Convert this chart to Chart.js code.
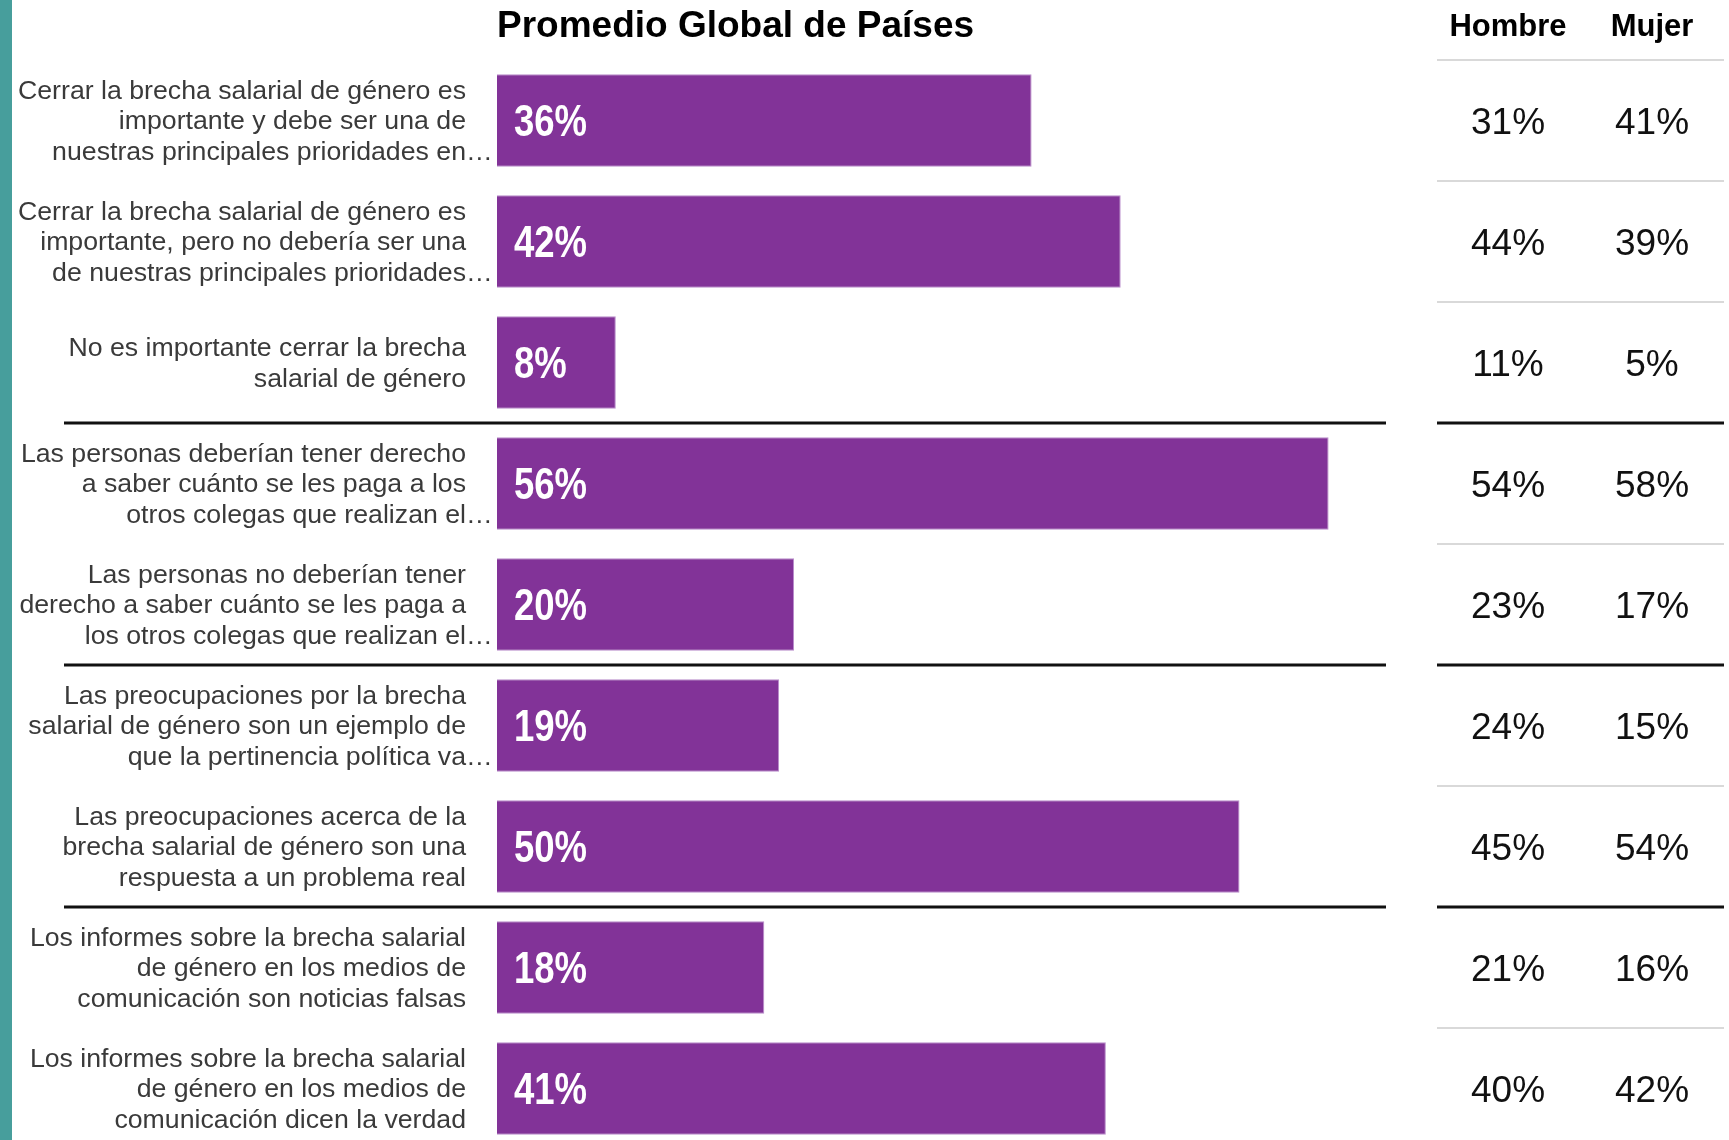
<!DOCTYPE html>
<html><head><meta charset="utf-8">
<script src="https://cdn.jsdelivr.net/npm/chart.js@4.4.0/dist/chart.umd.min.js"></script>
<style>
html,body{margin:0;padding:0;background:#fff;overflow:hidden;}
#wrap{position:relative;width:1729px;height:1150px;}
</style></head><body>
<div id="wrap"><canvas id="c"></canvas></div>
<script>
const title = "Promedio Global de Países";
const colHeaders = ["Hombre", "Mujer"];
const categories = [
  ["Cerrar la brecha salarial de género es", "importante y debe ser una de", "nuestras principales prioridades en…"],
  ["Cerrar la brecha salarial de género es", "importante, pero no debería ser una", "de nuestras principales prioridades…"],
  ["No es importante cerrar la brecha", "salarial de género"],
  ["Las personas deberían tener derecho", "a saber cuánto se les paga a los", "otros colegas que realizan el…"],
  ["Las personas no deberían tener", "derecho a saber cuánto se les paga a", "los otros colegas que realizan el…"],
  ["Las preocupaciones por la brecha", "salarial de género son un ejemplo de", "que la pertinencia política va…"],
  ["Las preocupaciones acerca de la", "brecha salarial de género son una", "respuesta a un problema real"],
  ["Los informes sobre la brecha salarial", "de género en los medios de", "comunicación son noticias falsas"],
  ["Los informes sobre la brecha salarial", "de género en los medios de", "comunicación dicen la verdad"]
];
const globalValues = [36, 42, 8, 56, 20, 19, 50, 18, 41];
const hombreValues = [31, 44, 11, 54, 23, 24, 45, 21, 40];
const mujerValues  = [41, 39, 5, 58, 17, 15, 54, 16, 42];
const groupBreaks = [2, 4, 6]; // black separator after these indices

const BAR = '#823398';
const overlay = {
  id: 'overlay',
  beforeDraw(chart) {
    const ctx = chart.ctx;
    ctx.save();
    ctx.fillStyle = '#479E9C';
    ctx.fillRect(0, 0, 12, chart.height);
    ctx.restore();
  },
  afterDatasetsDraw(chart) {
    const ctx = chart.ctx, ys = chart.scales.y, meta = chart.getDatasetMeta(0);
    const area = chart.chartArea;
    const pitch = ys.getPixelForValue(1) - ys.getPixelForValue(0);
    const colX = [1508, 1652];
    ctx.save();
    // title
    ctx.fillStyle = '#000';
    ctx.textBaseline = 'middle';
    ctx.textAlign = 'left';
    ctx.font = 'bold 37px "Liberation Sans", Arial, sans-serif';
    ctx.fillText(title, area.left, 27);
    // headers
    ctx.textAlign = 'center';
    ctx.font = 'bold 31px "Liberation Sans", Arial, sans-serif';
    colHeaders.forEach((h, k) => ctx.fillText(h, colX[k], 27));
    // lines
    const boundary = i => (ys.getPixelForValue(i) + ys.getPixelForValue(i + 1)) / 2;
    ctx.strokeStyle = '#d9d9d9';
    ctx.lineWidth = 2;
    const light = [ys.getPixelForValue(0) - pitch / 2];
    for (let i = 0; i < categories.length - 1; i++) if (!groupBreaks.includes(i)) light.push(boundary(i));
    light.forEach(y => { ctx.beginPath(); ctx.moveTo(1437, y); ctx.lineTo(1724, y); ctx.stroke(); });
    ctx.strokeStyle = '#111';
    ctx.lineWidth = 3;
    groupBreaks.forEach(i => {
      const y = boundary(i);
      ctx.beginPath(); ctx.moveTo(64, y); ctx.lineTo(area.right - 2, y); ctx.stroke();
      ctx.beginPath(); ctx.moveTo(1437, y); ctx.lineTo(1724, y); ctx.stroke();
    });
    // rows
    categories.forEach((lines, i) => {
      const cy = ys.getPixelForValue(i);
      const lh = 30.5;
      ctx.fillStyle = '#3a3a3a';
      ctx.font = '26.7px "Liberation Sans", Arial, sans-serif';
      lines.forEach((ln, j) => {
        const y = cy + 1.5 + (j - (lines.length - 1) / 2) * lh;
        const xr = 466;
        if (ln.endsWith('…')) {
          ctx.textAlign = 'right';
          ctx.fillText(ln.slice(0, -1), xr, y);
          ctx.textAlign = 'left';
          ctx.fillText('…', xr, y);
        } else {
          ctx.textAlign = 'right';
          ctx.fillText(ln, xr, y);
        }
      });
      // bar label (condensed bold)
      const bar = meta.data[i];
      ctx.save();
      ctx.fillStyle = '#fff';
      ctx.textAlign = 'left';
      ctx.font = 'bold 44px "Liberation Sans Narrow", "Liberation Sans", sans-serif';
      ctx.translate(bar.base + 17, bar.y + 3);
      ctx.scale(0.83, 1);
      ctx.fillText(globalValues[i] + '%', 0, 0);
      ctx.restore();
      // table values
      ctx.fillStyle = '#111';
      ctx.textAlign = 'center';
      ctx.font = '37px "Liberation Sans", Arial, sans-serif';
      ctx.fillText(hombreValues[i] + '%', colX[0], cy + 3);
      ctx.fillText(mujerValues[i] + '%', colX[1], cy + 3);
    });
    ctx.restore();
  }
};

new Chart(document.getElementById('c'), {
  type: 'bar',
  data: {
    labels: categories,
    datasets: [{
      data: globalValues,
      backgroundColor: BAR,
      borderColor: '#b98ccb',
      borderWidth: 1,
      barPercentage: 0.765,
      categoryPercentage: 1
    }]
  },
  options: {
    indexAxis: 'y',
    responsive: true,
    maintainAspectRatio: false,
    animation: false,
    layout: { padding: { left: 497, right: 341, top: 60, bottom: 1 } },
    scales: {
      x: { type: 'linear', min: 0, max: 60, display: false },
      y: { type: 'category', display: false }
    },
    plugins: { legend: { display: false }, tooltip: { enabled: false } }
  },
  plugins: [overlay]
});
</script>
</body></html>
